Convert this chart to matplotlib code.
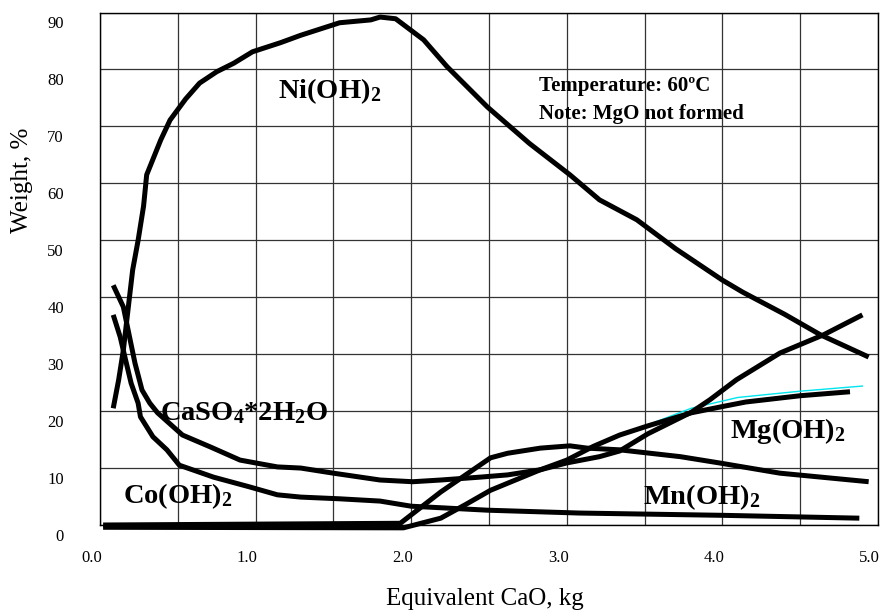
import numpy as np
import matplotlib.pyplot as plt
from matplotlib.transforms import ScaledTranslation

plt.rcParams['font.family'] = ['Liberation Serif', 'DejaVu Serif']
plt.rcParams['mathtext.fontset'] = 'custom'
plt.rcParams['mathtext.rm'] = 'Liberation Serif:bold'
plt.rcParams['mathtext.bf'] = 'Liberation Serif:bold'
plt.rcParams['mathtext.it'] = 'Liberation Serif:bold:italic'

# values
ni_x = [0.085, 0.12, 0.15, 0.18, 0.21, 0.245, 0.28, 0.30, 0.39, 0.45, 0.55, 0.64, 0.75, 0.86,
        0.98, 1.16, 1.29, 1.54, 1.74, 1.80, 1.90, 2.08, 2.23, 2.49, 2.76, 3.02, 3.21, 3.45,
        3.70, 4.00, 4.13, 4.40, 4.63, 4.94]
ni_y = [20.5, 25.5, 30.7, 37.8, 44.8, 50.0, 56.0, 61.5, 67.6, 71.1, 74.8, 77.6, 79.6, 81.1,
        83.1, 84.7, 86.0, 88.2, 88.7, 89.2, 88.9, 85.2, 80.5, 73.4, 67.0, 61.5, 57.1, 53.6,
        48.5, 43.0, 40.9, 37.0, 33.4, 29.5]

caso4_x = [0.085, 0.15, 0.19, 0.225, 0.27, 0.32, 0.37, 0.53, 0.71, 0.90, 1.14, 1.29, 1.50,
           1.80, 2.01, 2.19, 2.44, 2.62, 2.83, 3.00, 3.21, 3.34, 3.52, 3.80, 3.92, 4.09,
           4.37, 4.65, 4.90]
caso4_y = [42.1, 38.3, 33.0, 28.4, 23.7, 21.4, 19.7, 15.8, 13.7, 11.4, 10.2, 10.0, 9.1,
           7.9, 7.6, 7.9, 8.4, 8.8, 9.7, 10.9, 12.0, 13.0, 16.0, 19.8, 22.0, 25.5,
           30.2, 33.4, 36.9]

co_x = [0.085, 0.13, 0.16, 0.20, 0.245, 0.26, 0.34, 0.43, 0.51, 0.73, 0.96, 1.14, 1.29,
        1.54, 1.80, 2.00, 2.49, 3.08, 4.00, 4.88]
co_y = [36.9, 33.0, 29.5, 24.9, 21.4, 19.0, 15.5, 13.2, 10.5, 8.4, 6.7, 5.3, 4.9,
        4.6, 4.2, 3.3, 2.6, 2.1, 1.7, 1.2]

mn_x = [0.02, 1.93, 2.19, 2.51, 2.62, 2.83, 3.02, 3.13, 3.34, 3.73, 3.98, 4.37, 4.94]
mn_y = [0.0, 0.3, 5.8, 11.8, 12.6, 13.5, 13.9, 13.5, 13.2, 12.0, 10.9, 9.1, 7.6]

mg_x = [0.02, 1.95, 2.19, 2.35, 2.51, 2.83, 3.00, 3.17, 3.34, 3.52, 3.80, 4.00, 4.15,
        4.50, 4.82]
mg_y = [-0.4, -0.5, 1.2, 3.6, 6.1, 9.7, 11.4, 13.8, 15.8, 17.4, 19.7, 20.8, 21.6,
        22.7, 23.4]

cyan_x = [3.55, 3.80, 4.10, 4.50, 4.90]
cyan_y = [17.9, 20.5, 22.4, 23.5, 24.4]

x_ticks = [0, 1, 2, 3, 4, 5]
x_ticklabels = ['0.0', '1.0', '2.0', '3.0', '4.0', '5.0']
y_ticks = [0, 10, 20, 30, 40, 50, 60, 70, 80, 90]
y_ticklabels = ['0', '10', '20', '30', '40', '50', '60', '70', '80', '90']

fig = plt.figure(figsize=(8.82, 6.10), dpi=100)
ax = fig.add_axes([100 / 882, 85 / 610, 778 / 882, 512.5 / 610])

ax.set_xlim(0, 5)
ax.set_ylim(0, 90)
ax.set_xticks(x_ticks)
ax.set_xticklabels(x_ticklabels, fontsize=12)
ax.set_xticks(np.arange(0, 5.01, 0.5), minor=True)
ax.set_yticks(y_ticks)
ax.set_yticklabels(y_ticklabels, fontsize=12)
ax.tick_params(which='both', length=0)
ax.tick_params(axis='y', pad=26)
ax.tick_params(axis='x', pad=18)
ax.grid(which='both', color='#333333', lw=0.9)
ax.set_axisbelow(True)
for s in ax.spines.values():
    s.set_linewidth(1.0)
    s.set_color('black')

# labels sit a bit off their grid lines in the original
for lab in ax.get_yticklabels():
    lab.set_transform(lab.get_transform() + ScaledTranslation(0, -0.10, fig.dpi_scale_trans))
for lab in ax.get_xticklabels():
    lab.set_transform(lab.get_transform() + ScaledTranslation(-0.085, 0, fig.dpi_scale_trans))

ax.plot(cyan_x, cyan_y, color='#00e5ee', lw=1.0, zorder=2.5)
for xs, ys in [(ni_x, ni_y), (caso4_x, caso4_y), (co_x, co_y), (mn_x, mn_y), (mg_x, mg_y)]:
    ax.plot(xs, ys, color='black', lw=3.6, solid_joinstyle='round',
            solid_capstyle='butt', clip_on=False, zorder=3)

lab_kw = dict(fontsize=20.5, fontweight='bold', va='baseline', ha='left', zorder=4)
ax.text(1.144, 75.0, r'Ni(OH)$_\mathrm{2}$', **lab_kw)
ax.text(0.386, 18.4, r'CaSO$_\mathrm{4}$*2H$_\mathrm{2}$O', **lab_kw)
ax.text(0.148, 3.9, r'Co(OH)$_\mathrm{2}$', **lab_kw)
ax.text(4.05, 15.3, r'Mg(OH)$_\mathrm{2}$', **lab_kw)
ax.text(3.49, 3.7, r'Mn(OH)$_\mathrm{2}$', **lab_kw)

ax.text(2.82, 76.2, 'Temperature: 60ºC', fontsize=15, fontweight='bold', va='baseline')
ax.text(2.82, 71.3, 'Note: MgO not formed', fontsize=15, fontweight='bold', va='baseline')

fig.text(485 / 882, 5 / 610, 'Equivalent CaO, kg', fontsize=18, ha='center', va='baseline')
fig.text(22 / 882, 1 - 180 / 610, 'Weight, %', fontsize=18, rotation=90,
         ha='center', va='center')

fig.savefig('out.png', dpi=100)
